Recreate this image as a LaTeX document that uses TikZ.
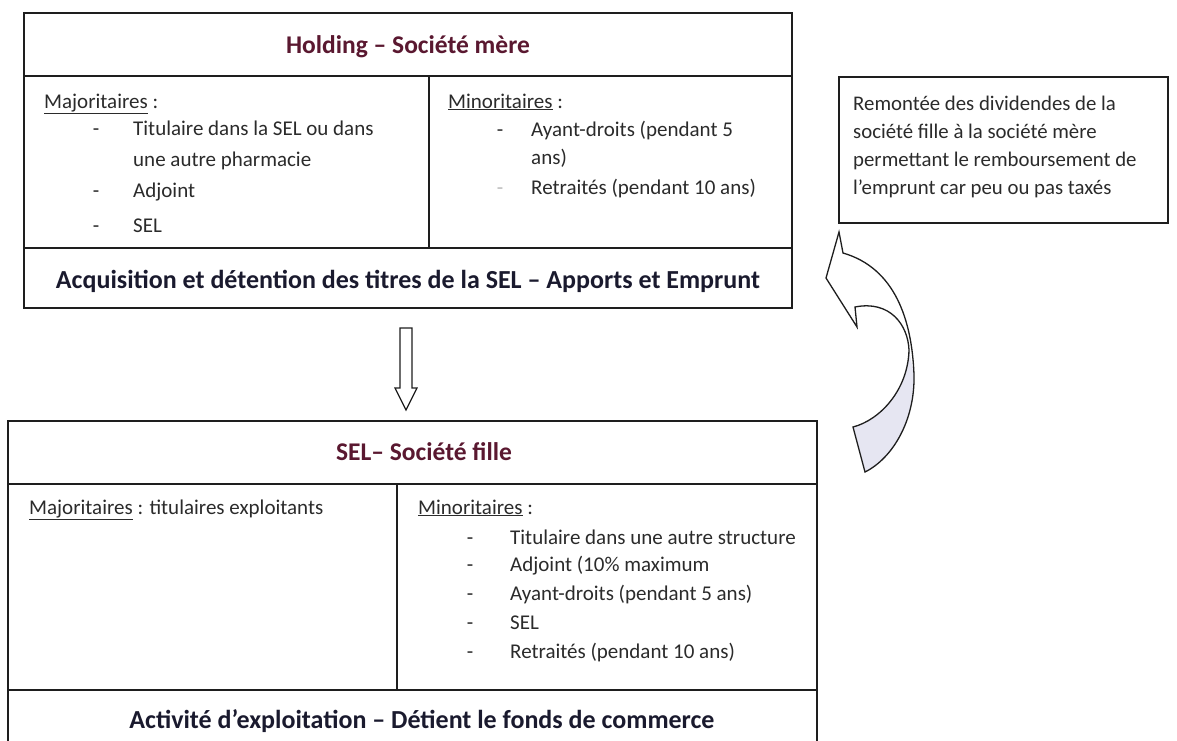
\documentclass[tikz,border=0pt]{standalone}
\usepackage{fontspec}
\setmainfont{Carlito}
\definecolor{linec}{HTML}{1E1E1E}
\definecolor{titlec}{HTML}{5A1830}
\definecolor{boldc}{HTML}{1A1A2E}
\definecolor{bodyc}{HTML}{2B2B2B}
\definecolor{pale}{HTML}{BBBBBB}
\definecolor{lav}{HTML}{E6E6F2}
\newcommand\myBody{\fontsize{21}{25}\selectfont}
\newcommand\myTitle{\fontsize{25.5}{30}\selectfont\bfseries}
\newcommand\myBold{\fontsize{26}{30}\selectfont\bfseries}
\newcommand\myNote{\fontsize{20.8}{25}\selectfont}
\begin{document}
\begin{tikzpicture}[x=1pt,y=-1pt,
  frame/.style={draw=linec,line width=1.5pt},
  tx/.style={inner sep=0pt,text height=0.72em,text depth=0.22em},
  lbl/.style={tx,anchor=west,text=bodyc,font=\myBody,yshift=-3.5pt},
  dashmark/.style={tx,anchor=center,text=bodyc,font=\myBody,yshift=-3.5pt},
  ttl/.style={tx,anchor=center,text=titlec,font=\myTitle,yshift=-6pt},
  bld/.style={tx,anchor=center,text=boldc,font=\myBold,yshift=-6pt},
  note/.style={tx,anchor=west,text=bodyc,font=\myNote,yshift=-3.5pt}]
\useasboundingbox (0,0) rectangle (1177,740);
\fill[white] (0,0) rectangle (1177,740);

% ---------- top box : Holding ----------
\draw[frame] (24,13) rectangle (792,308);
\draw[frame] (24,76) -- (792,76);
\draw[frame] (24,248) -- (792,248);
\draw[frame] (429,76) -- (429,248);
\node[ttl] (holdT) at (408,45) {Holding – Société mère};
\node[lbl] (hMaj) at (44,102) {\underline{Majoritaires} :};
\node[dashmark] (hd1) at (96,129) {-};
\node[lbl] (h1) at (133,129) {Titulaire dans la SEL ou dans};
\node[lbl] (h2) at (133,160) {une autre pharmacie};
\node[dashmark] (hd3) at (96,191) {-};
\node[lbl] (h3) at (133,191) {Adjoint};
\node[dashmark] (hd4) at (96,226) {-};
\node[lbl] (h4) at (133,226) {SEL};
\node[lbl] (hMin) at (448,102) {\underline{Minoritaires} :};
\node[dashmark] (hm1d) at (500,130) {-};
\node[lbl] (hm1) at (531,130) {Ayant-droits (pendant 5};
\node[lbl] (hm2) at (531,158) {ans)};
\node[dashmark,text=pale] (hm3d) at (500,188) {-};
\node[lbl] (hm3) at (531,188) {Retraités (pendant 10 ans)};
\node[bld] (holdB) at (408,280) {Acquisition et détention des titres de la SEL – Apports et Emprunt};

% ---------- note box ----------
\draw[frame] (839,77) rectangle (1168,223);
\node[note] (n1) at (853,104) {Remontée des dividendes de la};
\node[note] (n2) at (853,132) {société fille à la société mère};
\node[note] (n3) at (853,160) {permettant le remboursement de};
\node[note] (n4) at (853,188) {l’emprunt car peu ou pas taxés};

% ---------- down block arrow ----------
\coordinate (dTop) at (406,308);
\coordinate (dBot) at (406,421);
\draw[draw=linec,line width=1.2pt,fill=white]
  (400,328) -- (412,328) -- (412,388) -- (417,388) -- (406,410) -- (395,388) -- (400,388) -- cycle;

% ---------- bottom box : SEL ----------
\draw[frame] (8,742) -- (8,421) -- (817,421) -- (817,742);
\draw[frame] (8,484) -- (817,484);
\draw[frame] (8,690) -- (817,690);
\draw[frame] (397,484) -- (397,690);
\node[ttl] (selT) at (424,452) {SEL– Société fille};
\node[lbl] (sMaj) at (29,508) {\underline{Majoritaires} : titulaires exploitants};
\node[lbl] (sMin) at (418,508) {\underline{Minoritaires} :};
\node[dashmark] (sd1) at (470,538) {-};
\node[lbl] (s1) at (510,538) {Titulaire dans une autre structure};
\node[dashmark] (sd2) at (470,565) {-};
\node[lbl] (s2) at (510,565) {Adjoint (10\% maximum};
\node[dashmark] (sd3) at (470,594) {-};
\node[lbl] (s3) at (510,594) {Ayant-droits (pendant 5 ans)};
\node[dashmark] (sd4) at (470,623) {-};
\node[lbl] (s4) at (510,623) {SEL};
\node[dashmark] (sd5) at (470,652) {-};
\node[lbl] (s5) at (510,652) {Retraités (pendant 10 ans)};
\node[bld] (selB) at (422,720) {Activité d’exploitation – Détient le fonds de commerce};

% ---------- curved block arrow (dividends up) ----------
\fill[white]
  (839,232) -- (843,253) .. controls (895,268) and (912,320) .. (914,375)
  .. controls (915,420) and (893,458) .. (865,472) -- (853,427)
  .. controls (880,420) and (908,390) .. (909,350)
  .. controls (908,325) and (890,300) .. (855,307) -- (857,327) -- (826,278) -- cycle;
\fill[lav]
  (909,350) .. controls (908,390) and (880,420) .. (853,427) -- (865,472)
  .. controls (893,458) and (915,420) .. (914,375) -- cycle;
\draw[draw=linec,line width=1.3pt,line join=miter]
  (839,232) -- (843,253) .. controls (895,268) and (912,320) .. (914,375)
  .. controls (915,420) and (893,458) .. (865,472) -- (853,427)
  .. controls (880,420) and (908,390) .. (909,350)
  .. controls (908,325) and (890,300) .. (855,307) -- (857,327) -- (826,278) -- cycle;
\end{tikzpicture}
\end{document}
